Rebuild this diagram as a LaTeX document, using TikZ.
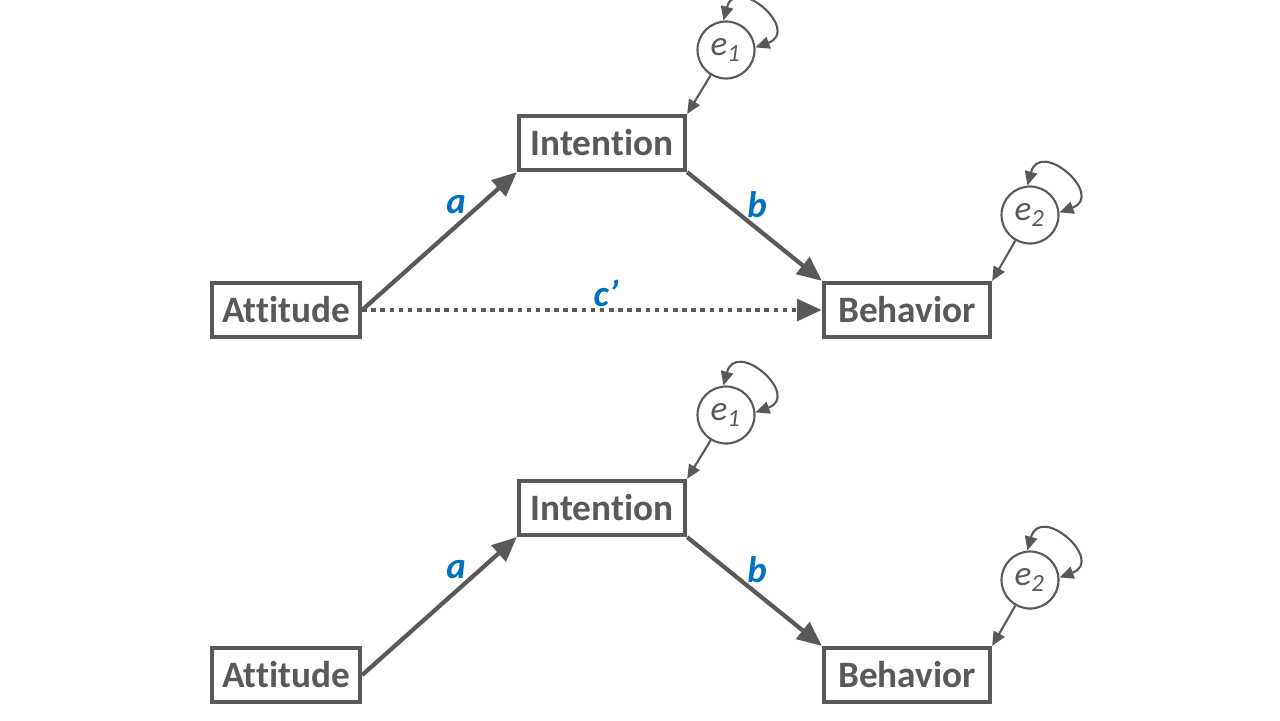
\documentclass[tikz,border=0pt]{standalone}
\usepackage{fontspec}
\setmainfont[Ligatures=NoCommon]{Carlito}
\usepackage{xcolor}
\usetikzlibrary{arrows.meta}
\definecolor{dgray}{HTML}{595959}
\definecolor{pblue}{HTML}{0070C0}

\begin{document}
\begin{tikzpicture}[x=0.01cm,y=0.01cm,
            var/.style={draw=dgray,line width=1.2pt,minimum height=0.54cm,text=dgray,font=\fontsize{10.6}{13}\selectfont\bfseries,inner sep=0pt},
            err/.style={draw=dgray,circle,line width=0.6pt,minimum size=0.57cm,text=dgray,font=\fontsize{10}{12}\selectfont\itshape,inner sep=0pt},
            path/.style={draw=dgray,line width=1.2pt,-{Triangle[length=7pt,width=6pt]}},
            resid/.style={draw=dgray,line width=0.6pt,-{Triangle[length=4pt,width=3.5pt]}},
            loop/.style={draw=dgray,line width=0.6pt,{Triangle[length=4pt,width=3.5pt]}-{Triangle[length=4pt,width=3.5pt]}},
            coef/.style={text=pblue,font=\fontsize{10.5}{13}\selectfont\bfseries\itshape}]
            \useasboundingbox (0,0) rectangle (1280,720);
            % top model
            \node[var,minimum width=1.48cm] (Att1) at (286,410) {Attitude};
            \node[var,minimum width=1.66cm] (Int1) at (602,577) {Intention};
            \node[var,minimum width=1.66cm] (Beh1) at (907,410) {Behavior};
            \node[err] (E11) at (726,670) {e\textsubscript{1}};
            \node[err] (E21) at (1030,505) {e\textsubscript{2}};
            \draw[path] (Att1.east) -- (Int1.south west);
            \draw[path] (Int1.south east) -- (Beh1.north west);
            \draw[path,line width=1.4pt,dash pattern=on 1.3pt off 1.3pt] (Att1.east) -- (Beh1.west);
            \draw[resid] (E11) -- (Int1.north east);
            \draw[resid] (E21) -- (Beh1.north east);
            \draw[loop] (E11.95) to[out=75,in=20,looseness=3] (E11.5);
            \draw[loop] (E21.95) to[out=75,in=20,looseness=3] (E21.5);
            \node[coef] (a1) at (456,515) {a};
            \node[coef] (b1) at (757,515) {b};
            \node[coef] (c1) at (606,427) {c’};
            % bottom model
            \node[var,minimum width=1.48cm] (Att2) at (286,45) {Attitude};
            \node[var,minimum width=1.66cm] (Int2) at (602,212) {Intention};
            \node[var,minimum width=1.66cm] (Beh2) at (907,45) {Behavior};
            \node[err] (E12) at (726,305) {e\textsubscript{1}};
            \node[err] (E22) at (1030,140) {e\textsubscript{2}};
            \draw[path] (Att2.east) -- (Int2.south west);
            \draw[path] (Int2.south east) -- (Beh2.north west);
            \draw[resid] (E12) -- (Int2.north east);
            \draw[resid] (E22) -- (Beh2.north east);
            \draw[loop] (E12.95) to[out=75,in=20,looseness=3] (E12.5);
            \draw[loop] (E22.95) to[out=75,in=20,looseness=3] (E22.5);
            \node[coef] (a2) at (456,150) {a};
            \node[coef] (b2) at (757,150) {b};
        \end{tikzpicture}
\end{document}
